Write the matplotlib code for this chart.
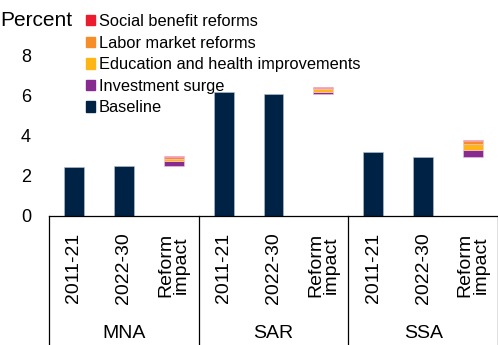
import matplotlib
matplotlib.use('Agg')
from matplotlib import pyplot as plt
from matplotlib.patches import Patch
import numpy as np

plt.rcParams['font.family'] = ['Liberation Sans', 'DejaVu Sans']

regions = ['MNA', 'SAR', 'SSA']
periods = ['2011-21', '2022-30', 'Reform\nimpact']

baseline_2011_21 = [2.45, 6.22, 3.2]
baseline_2022_30 = [2.5, 6.1, 2.95]

# reform contributions, stacked on top of the 2022-30 baseline
investment = [0.25, 0.10, 0.35]
education = [0.12, 0.15, 0.30]
labor = [0.08, 0.04, 0.13]
social = [0.05, 0.05, 0.07]

c_navy = '#002345'
c_purple = '#872B90'
c_yellow = '#FDB714'
c_orange = '#F78D28'
c_red = '#EB1C2D'

fig = plt.figure(figsize=(4.98, 3.45), dpi=100)
ax = fig.add_axes([49 / 498, 129 / 345, 449 / 498, 200 / 345])

n = len(regions)
x = np.arange(n * 3)
w = 0.4
edge = dict(edgecolor='#b8c2cf', linewidth=0.4)

ax.bar(x[0::3], baseline_2011_21, w, color=c_navy, **edge)
ax.bar(x[1::3], baseline_2022_30, w, color=c_navy, **edge)

bottom = np.array(baseline_2022_30, dtype=float)
for vals, col in [(investment, c_purple), (education, c_yellow),
                  (labor, c_orange), (social, c_red)]:
    ax.bar(x[2::3], vals, w, bottom=bottom, color=col, edgecolor='#f3c6dc', linewidth=0.4)
    bottom = bottom + np.array(vals)

ax.set_xlim(-0.5, n * 3 - 0.5)
ax.set_ylim(0, 10)
ax.set_yticks([0, 2, 4, 6, 8])
ax.tick_params(axis='y', length=0, labelsize=13, pad=13)
ax.set_xticks(x)
ax.set_xticklabels(periods * n, rotation=90, fontsize=14, linespacing=0.9)
ax.tick_params(axis='x', length=0, pad=12)
for s in ['top', 'right', 'left']:
    ax.spines[s].set_visible(False)
ax.spines['bottom'].set_linewidth(0.9)

# group brackets below the axis
trans = ax.get_xaxis_transform()
for b in np.arange(n + 1) * 3 - 0.5:
    ax.plot([b, b], [0, -0.65], color='black', lw=0.9, transform=trans, clip_on=False)
for i, r in enumerate(regions):
    ax.text(i * 3 + 1, -0.585, r, transform=trans, ha='center', va='center', fontsize=14)

fig.text(0 / 498, 1 - 20 / 345, 'Percent', ha='left', va='center', fontsize=15)

handles = [Patch(color=c_red), Patch(color=c_orange), Patch(color=c_yellow),
           Patch(color=c_purple), Patch(color=c_navy)]
labels = ['Social benefit reforms', 'Labor market reforms',
          'Education and health improvements', 'Investment surge', 'Baseline']
ax.legend(handles, labels, loc='upper left', bbox_to_anchor=(37 / 449, 1.01),
          frameon=False, fontsize=11.8, handlelength=0.55, handleheight=0.6,
          handletextpad=0.25, labelspacing=0.4, borderaxespad=0, borderpad=0)

fig.savefig('out.png', dpi=100)
